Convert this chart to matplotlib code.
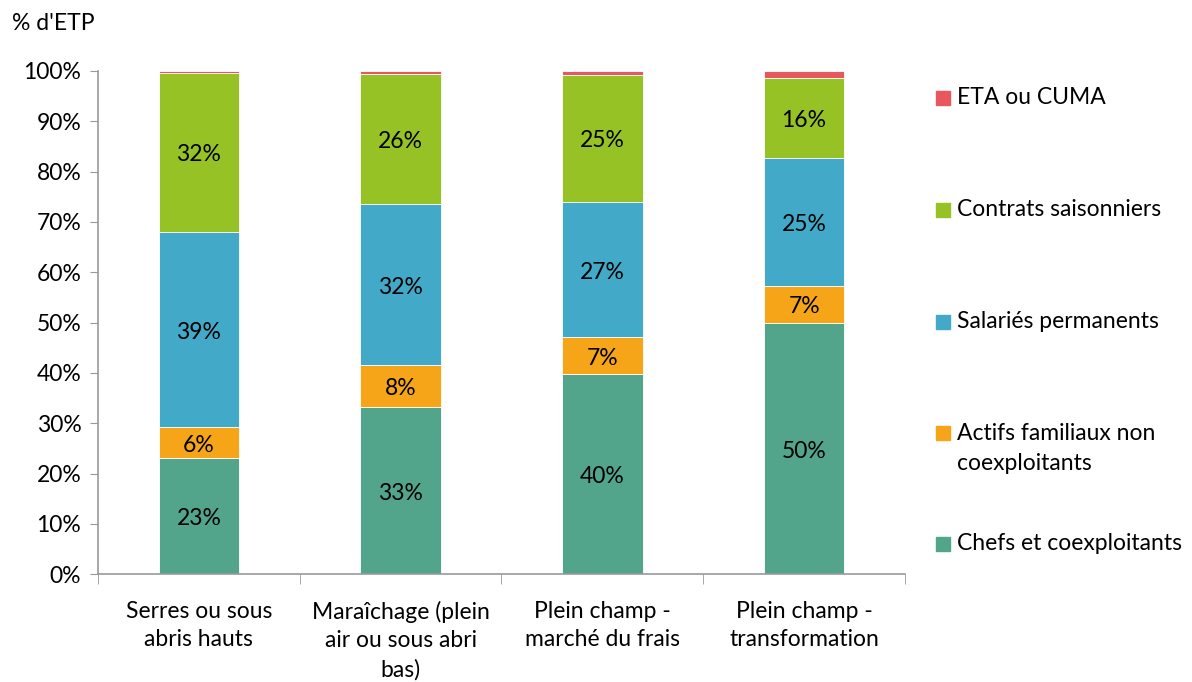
import matplotlib.pyplot as plt
from matplotlib.patches import Rectangle
import numpy as np

plt.rcParams['font.family'] = ['Lato', 'DejaVu Sans']

categories = ["Serres ou sous\nabris hauts",
              "Maraîchage (plein\nair ou sous abri\nbas)",
              "Plein champ -\nmarché du frais",
              "Plein champ -\ntransformation"]

chefs = [23.1, 33.2, 39.8, 49.9]
actifs = [6.1, 8.3, 7.3, 7.4]
salaries = [38.8, 32.1, 26.9, 25.4]
saisonniers = [31.6, 25.8, 25.2, 15.9]
eta = [0.4, 0.6, 0.8, 1.4]

series = [
    ("Chefs et coexploitants", chefs, "#52A58A"),
    ("Actifs familiaux non\ncoexploitants", actifs, "#F6A519"),
    ("Salariés permanents", salaries, "#42AAC8"),
    ("Contrats saisonniers", saisonniers, "#96C225"),
    ("ETA ou CUMA", eta, "#E8565E"),
]

FS = 16.5

fig = plt.figure(figsize=(11.92, 6.82), dpi=100)
ax = fig.add_axes([0.0822, 0.158, 0.677, 0.738])

x = np.arange(len(categories))
bottom = np.zeros(len(categories))
for name, vals, col in series:
    vals = np.array(vals)
    ax.bar(x, vals, 0.4, bottom=bottom, color=col, edgecolor="white", linewidth=0.6)
    if name != "ETA ou CUMA":
        for xi, b, v in zip(x, bottom, vals):
            ax.text(xi, b + v / 2 - 0.5, f"{round(v):.0f}%", ha="center", va="center",
                    fontsize=FS, color="black")
    bottom += vals

ax.set_xlim(-0.5, len(categories) - 0.5)
ax.set_ylim(0, 100)
ax.set_yticks(np.arange(0, 101, 10))
ax.set_yticklabels([f"{v}%" for v in range(0, 101, 10)], fontsize=FS)
ax.set_xticks(x)
ax.set_xticklabels(categories, fontsize=FS, linespacing=1.45)
ax.set_xticks(np.arange(-0.5, len(categories), 1), minor=True)
ax.tick_params(axis="x", which="major", length=0, pad=19)
ax.tick_params(axis="x", which="minor", length=7, color="#999999")
ax.tick_params(axis="y", length=6, color="#999999", pad=6)
for s in ["top", "right"]:
    ax.spines[s].set_visible(False)
ax.spines["left"].set_color("#999999")
ax.spines["bottom"].set_color("#999999")
ax.spines["left"].set_linewidth(1.2)
ax.spines["bottom"].set_linewidth(1.2)

fig.text(12 / 1192, 1 - 24 / 682, "% d'ETP", fontsize=FS, va="center", ha="left")

# legend, top to bottom
leg_y = [98, 210, 322, 433, 544]
for (name, vals, col), yy in zip(series[::-1], leg_y):
    fig.add_artist(Rectangle((936 / 1192, 1 - (yy + 7) / 682), 14 / 1192, 14 / 682,
                             transform=fig.transFigure, color=col))
    for i, line in enumerate(name.split("\n")):
        fig.text(957 / 1192, 1 - (yy + 30 * i) / 682, line, fontsize=FS,
                 va="center", ha="left")

fig.savefig("out.png", dpi=100)
